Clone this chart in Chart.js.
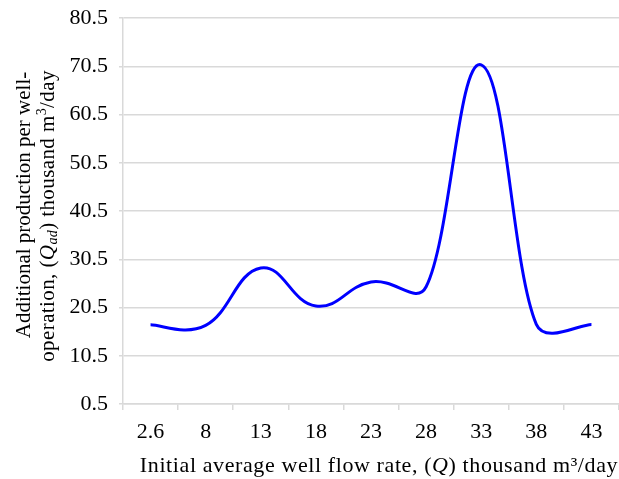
<!DOCTYPE html>
<html>
<head>
<meta charset="utf-8">
<script src="https://cdn.jsdelivr.net/npm/chart.js@4"></script>
<style>
html,body{margin:0;padding:0;background:#fff;}
#wrap{width:619px;height:479px;position:relative;}
</style>
</head>
<body>
<div id="wrap"><canvas id="c" width="619" height="479"></canvas></div>
<script>
const categories = ['2.6', '8', '13', '18', '23', '28', '33', '38', '43'];
const additionalProduction = [16.9, 16.8, 28.7, 20.8, 25.8, 24.8, 70.8, 17.0, 17.0];
const yTickMin = 0.5;
const yTickMax = 80.5;
const yTickStep = 10;

const FONT = '"Liberation Serif", "Times New Roman", serif';
const FS = 22;
const YT = 21;
const SMOOTH = 0.45;
const BLEND = 0.5;

function drawRich(ctx, segs, cx, cy, spacing) {
  ctx.letterSpacing = (spacing || 0) + 'px';
  let total = 0;
  segs.forEach(s => {
    ctx.font = (s.italic ? 'italic ' : '') + s.size + 'px ' + FONT;
    s.w = ctx.measureText(s.text).width;
    total += s.w;
  });
  let x = cx - total / 2;
  ctx.textBaseline = 'middle';
  ctx.textAlign = 'left';
  segs.forEach(s => {
    ctx.font = (s.italic ? 'italic ' : '') + s.size + 'px ' + FONT;
    ctx.fillText(s.text, x, cy + (s.dy || 0));
    x += s.w;
  });
}

// Excel-like smoothing: tangent along neighbours, handle length blended between own side and shorter side
const smoothPlugin = {
  id: 'excelSmooth',
  beforeDatasetDraw(chart, args) {
    const meta = chart.getDatasetMeta(args.index);
    const line = meta.dataset;
    if (line && line.updateControlPoints) line.updateControlPoints(chart.chartArea, 'x');
    const pts = meta.data;
    for (let i = 0; i < pts.length; i++) {
      const p = pts[i];
      const prev = pts[i - 1] || p;
      const next = pts[i + 1] || p;
      const d01 = Math.hypot(p.x - prev.x, p.y - prev.y);
      const d12 = Math.hypot(next.x - p.x, next.y - p.y);
      let s1, s2;
      if (d01 === 0 || d12 === 0) { s1 = s2 = SMOOTH / 2; }
      else {
        const m = Math.min(d01, d12), sum = d01 + d12;
        s1 = SMOOTH * (BLEND * d01 + (1 - BLEND) * m) / sum;
        s2 = SMOOTH * (BLEND * d12 + (1 - BLEND) * m) / sum;
      }
      const dx = next.x - prev.x, dy = next.y - prev.y;
      p.cp1x = p.x - s1 * dx; p.cp1y = p.y - s1 * dy;
      p.cp2x = p.x + s2 * dx; p.cp2y = p.y + s2 * dy;
    }
  }
};

const titlePlugin = {
  id: 'richTitles',
  afterDraw(chart) {
    const ctx = chart.ctx;
    const area = chart.chartArea;
    ctx.save();
    ctx.fillStyle = '#000';
    drawRich(ctx, [
      {text: 'Initial average well flow rate, (', size: FS},
      {text: 'Q', size: FS, italic: true},
      {text: ') thousand m\u00b3/day', size: FS}
    ], 379, 466, 0.6);
    ctx.restore();
    ctx.save();
    ctx.fillStyle = '#000';
    ctx.translate(24, 205);
    ctx.rotate(-Math.PI / 2);
    drawRich(ctx, [
      {text: 'Additional production per well-', size: YT}
    ], 0, 0, 0);
    ctx.restore();
    ctx.save();
    ctx.fillStyle = '#000';
    ctx.translate(48, 216);
    ctx.rotate(-Math.PI / 2);
    drawRich(ctx, [
      {text: 'operation, (', size: YT},
      {text: 'Q', size: YT, italic: true},
      {text: 'ad', size: 14, italic: true, dy: 5},
      {text: ') thousand m', size: YT},
      {text: '3', size: 14, dy: -6},
      {text: '/day', size: YT}
    ], 0, 0, 0.4);
    ctx.restore();
  }
};

new Chart(document.getElementById('c'), {
  type: 'line',
  data: {
    labels: categories,
    datasets: [{
      data: additionalProduction,
      borderColor: '#0000ff',
      borderWidth: 3,
      pointRadius: 0,
      tension: 0.4,
      fill: false
    }]
  },
  options: {
    responsive: false,
    animation: false,
    devicePixelRatio: 1,
    layout: {padding: {top: 18, right: 0, left: 0, bottom: 0}},
    plugins: {legend: {display: false}, tooltip: {enabled: false}},
    scales: {
      x: {
        type: 'category',
        offset: true,
        grid: {
          offset: true,
          drawOnChartArea: false,
          drawTicks: true,
          tickLength: 6,
          color: '#d9d9d9',
          lineWidth: 1.5
        },
        border: {display: true, color: '#d9d9d9', width: 1.5},
        ticks: {
          color: '#000',
          font: {family: FONT, size: FS},
          padding: 9,
          maxRotation: 0,
          autoSkip: false
        },
        afterFit(s) { s.height = 75; s.paddingLeft = 0; s.paddingRight = 0; }
      },
      y: {
        min: yTickMin,
        max: yTickMax,
        ticks: {
          stepSize: yTickStep,
          color: '#000',
          font: {family: FONT, size: FS},
          padding: 11,
          callback: v => Number(v).toFixed(1)
        },
        grid: {
          color: '#d9d9d9',
          lineWidth: 1.5,
          tickLength: 4
        },
        border: {display: true, color: '#d9d9d9', width: 1.5},
        afterFit(s) { s.width = 123; s.paddingTop = 0; s.paddingBottom = 0; }
      }
    }
  },
  plugins: [smoothPlugin, titlePlugin]
});
</script>
</body>
</html>
